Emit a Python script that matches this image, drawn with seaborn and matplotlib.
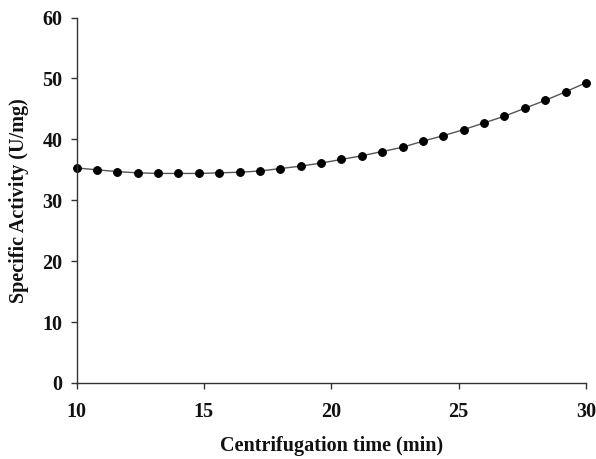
import matplotlib
matplotlib.use("Agg")
import matplotlib.pyplot as plt
import seaborn as sns
import pandas as pd

time_min = [10.0, 10.8, 11.6, 12.4, 13.2, 14.0, 14.8, 15.6, 16.4, 17.2, 18.0, 18.8, 19.6,
            20.4, 21.2, 22.0, 22.8, 23.6, 24.4, 25.2, 26.0, 26.8, 27.6, 28.4, 29.2, 30.0]
activity = [35.3, 35.0, 34.7, 34.5, 34.4, 34.4, 34.4, 34.5, 34.6, 34.8, 35.2, 35.6, 36.1,
            36.7, 37.3, 38.0, 38.7, 39.7, 40.6, 41.6, 42.7, 43.8, 45.1, 46.4, 47.8, 49.3]
x_ticks = [10, 15, 20, 25, 30]
y_ticks = [0, 10, 20, 30, 40, 50, 60]

sns.set_style("ticks")
plt.rcParams['font.family'] = ['Liberation Serif', 'DejaVu Serif']
plt.rcParams['font.weight'] = 'bold'

df = pd.DataFrame({"time": time_min, "activity": activity})

W, H = 596, 459
L, R, T, B = 76.5, 586, 17.5, 383
fig = plt.figure(figsize=(W / 100, H / 100), dpi=100)
ax = fig.add_axes([L / W, 1 - B / H, (R - L) / W, (B - T) / H])
sns.lineplot(data=df, x="time", y="activity", ax=ax, color="#555555", linewidth=1.0,
             marker="o", markersize=5.6, markerfacecolor="black", markeredgecolor="black",
             clip_on=False)

ax.set_xlim(10, 30)
ax.set_ylim(0, 60)
ax.set_xticks(x_ticks)
ax.set_yticks(y_ticks)
fs = 14.5
ax.set_xticklabels([str(t) for t in x_ticks], fontsize=fs, fontweight="bold", color="#111111")
ax.set_yticklabels([str(t) for t in y_ticks], fontsize=fs, fontweight="bold", color="#111111")
ax.tick_params(axis="both", direction="out", length=4, width=1, color="#333333")
ax.tick_params(axis="x", pad=10)
ax.tick_params(axis="y", pad=6)
for s in ["top", "right"]:
    ax.spines[s].set_visible(False)
for s in ["left", "bottom"]:
    ax.spines[s].set_color("#333333")
    ax.spines[s].set_linewidth(1)
ax.set_xlabel("Centrifugation time (min)", fontsize=fs, fontweight="bold", color="#111111")
ax.set_ylabel("Specific Activity (U/mg)", fontsize=fs, fontweight="bold", color="#111111")
ax.xaxis.set_label_coords(0.5, (B - 436.5) / (B - T))
ax.yaxis.set_label_coords((29 - L) / (R - L), 0.5)

fig.savefig("out.png", dpi=100)
